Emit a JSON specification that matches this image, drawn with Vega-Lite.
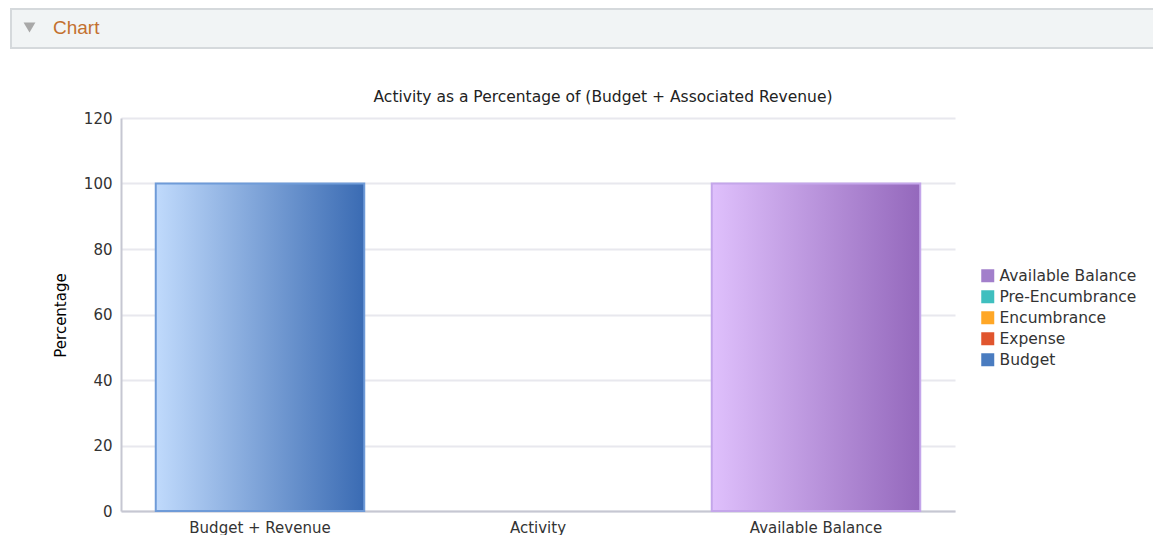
{
  "$schema": "https://vega.github.io/schema/vega-lite/v6.json",
  "background": "white",
  "padding": {"left": 10, "top": 8, "right": 0, "bottom": 0},
  "spacing": 40,
  "resolve": {"scale": {"color": "independent", "shape": "independent"}, "legend": {"color": "independent", "shape": "independent"}},
  "config": {"font": "DejaVu Sans", "view": {"stroke": null}},
  "vconcat": [
    {
      "width": 1143,
      "height": 39,
      "view": {"fill": "#f1f4f5", "stroke": "#d5d9dc", "strokeWidth": 2},
      "data": {"values": [{"section": "Chart"}]},
      "mark": {"type": "point", "opacity": 0, "filled": true},
      "encoding": {
        "shape": {"field": "section", "type": "nominal", "scale": {"range": ["triangle-down"]},
          "legend": {"orient": "top-left", "title": null, "offset": 9, "padding": 0, "labelFontSize": 19, "labelFont": "Liberation Sans", "labelColor": "#c3702f", "symbolSize": 140, "symbolOpacity": 1, "symbolStrokeWidth": 0, "symbolFillColor": "#a8a8a8", "labelOffset": 14}},
        "color": {"field": "section", "type": "nominal", "scale": {"range": ["#a8a8a8"]}}
      }
    },
    {
      "spacing": 0,
      "resolve": {"scale": {"color": "independent"}, "legend": {"color": "independent"}},
      "hconcat": [
        {
          "width": 1,
          "height": 1,
          "data": {"values": [{"section": "spacer"}]},
          "mark": {"type": "text", "text": ""}
        },
        {
          "width": 834,
          "height": 393,
          "title": {"text": "Activity as a Percentage of (Budget + Associated Revenue)", "fontSize": 15.5, "fontWeight": "normal", "color": "#222222", "frame": "group", "dx": 65, "offset": 6},
          "data": {"values": [
            {"category": "Budget + Revenue", "series": "Budget", "value": 100},
            {"category": "Activity", "series": "Expense", "value": 0},
            {"category": "Activity", "series": "Encumbrance", "value": 0},
            {"category": "Activity", "series": "Pre-Encumbrance", "value": 0},
            {"category": "Available Balance", "series": "Available Balance", "value": 100}
          ]},
          "encoding": {
            "x": {"field": "category", "type": "nominal", "sort": ["Budget + Revenue", "Activity", "Available Balance"],
              "scale": {"paddingInner": 0.25, "paddingOuter": 0.125},
              "axis": {"title": null, "labelAngle": 0, "ticks": false, "labelFontSize": 15, "labelColor": "#333333", "labelPadding": 9, "domainColor": "#c6c7d2", "domainWidth": 2}},
            "y": {"field": "value", "type": "quantitative", "stack": null,
              "scale": {"domain": [0, 120], "nice": false},
              "axis": {"title": "Percentage", "values": [0, 20, 40, 60, 80, 100, 120], "grid": true, "gridColor": "#e8e8ee", "gridWidth": 2, "ticks": false, "domainColor": "#c6c7d2", "domainWidth": 2, "labelFontSize": 15, "labelColor": "#333333", "labelPadding": 9, "titleFontSize": 15, "titleFontWeight": "normal", "titleColor": "#000000", "minExtent": 109, "titlePadding": 0, "titleX": -53, "titleY": 197}}
          },
          "layer": [
            {
              "mark": {"type": "bar", "opacity": 0},
              "encoding": {
                "color": {"field": "series", "type": "nominal",
                  "scale": {"domain": ["Available Balance", "Pre-Encumbrance", "Encumbrance", "Expense", "Budget"], "range": ["#a27fcb", "#3fbfbf", "#ffa726", "#e0552e", "#4a7cc0"]},
                  "legend": {"orient": "none", "legendX": 859, "legendY": 150, "title": null, "symbolType": "square", "symbolSize": 169, "symbolOpacity": 1, "symbolStrokeWidth": 0, "labelFontSize": 15.5, "labelColor": "#333333", "labelOffset": 4, "rowPadding": 4}}
              }
            },
            {
              "transform": [{"filter": "datum.series === 'Budget'"}],
              "mark": {"type": "bar", "stroke": "#6f9bd8", "strokeWidth": 2,
                "fill": {"gradient": "linear", "x1": 0, "x2": 1, "y1": 0, "y2": 0, "stops": [{"offset": 0, "color": "#c0dafc"}, {"offset": 1, "color": "#3a6bb3"}]}}
            },
            {
              "transform": [{"filter": "datum.series === 'Available Balance'"}],
              "mark": {"type": "bar", "stroke": "#c4a6ea", "strokeWidth": 2,
                "fill": {"gradient": "linear", "x1": 0, "x2": 1, "y1": 0, "y2": 0, "stops": [{"offset": 0, "color": "#dfc0fc"}, {"offset": 1, "color": "#9468bc"}]}}
            }
          ]
        }
      ]
    }
  ]
}
